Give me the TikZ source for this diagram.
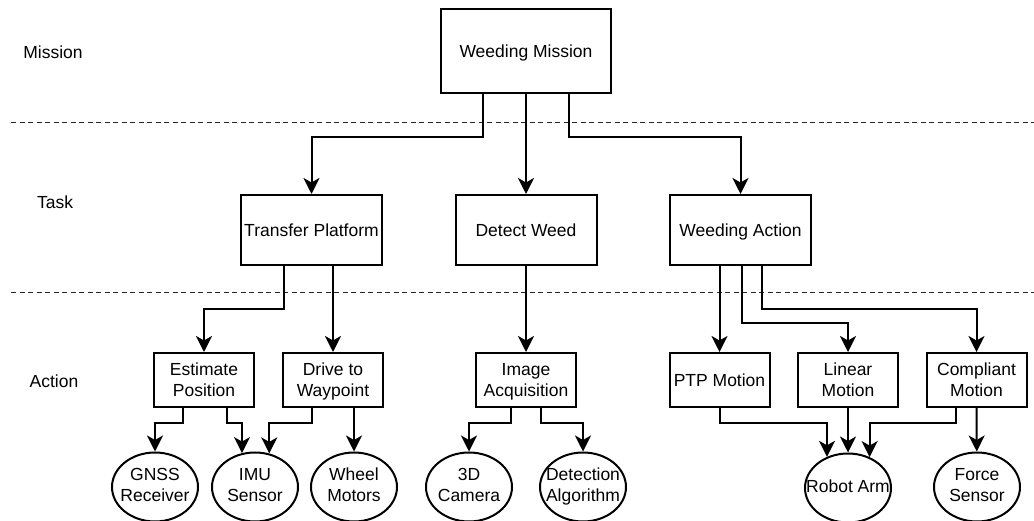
\documentclass[tikz,border=0pt]{standalone}
\usepackage{fontspec}
\setmainfont{Liberation Sans}
\usetikzlibrary{arrows.meta,shapes.geometric}

% two-line label that does not widen the ellipse around it
\newcommand{\elabel}[1]{\raisebox{-2.5pt}{\makebox[0pt][c]{\begin{tabular}{@{}c@{}}#1\end{tabular}}}}

\tikzset{
  missionbox/.style={draw, line width=2pt, minimum width=170pt, minimum height=84pt, inner sep=0pt, align=center, text depth=0pt},
  taskbox/.style={draw, line width=2pt, minimum width=141pt, minimum height=70pt, inner sep=0pt, align=center, text depth=0pt},
  actbox/.style={draw, line width=2pt, minimum width=100pt, minimum height=54pt, inner sep=0pt, align=center, text depth=0pt},
  res/.style={ellipse, draw, line width=2pt, minimum width=86pt, minimum height=69pt, inner sep=0pt},
  arr/.style={line width=2pt, -{Stealth[length=16pt, width=16pt, inset=4.5pt]}},
  sep/.style={line width=1pt, black!85, dash pattern=on 5pt off 3.5pt}
}

\begin{document}
\begin{tikzpicture}[x=1pt, y=-1pt, font=\fontsize{17.5pt}{21pt}\selectfont]
\useasboundingbox (0,0) rectangle (1034,521);

% level separators
\draw[sep] (11,123) -- (1034,123);
\draw[sep] (11,293) -- (1034,293);

% level names
\node (lmission) at (53,52) {Mission};
\node (ltask) at (55,202) {Task};
\node (laction) at (54,381) {Action};

% mission
\node[missionbox] (wm) at (526,51) {Weeding Mission};

% tasks
\node[taskbox] (tp) at (311.5,230) {Transfer Platform};
\node[taskbox] (dw) at (526,230) {Detect Weed};
\node[taskbox] (wa) at (740.5,230) {Weeding Action};

% actions
\node[actbox] (ep)  at (204,380)   {Estimate\\Position};
\node[actbox] (dtw) at (333,380)   {Drive to\\Waypoint};
\node[actbox] (ia)  at (526,380)   {Image\\Acquisition};
\node[actbox] (ptp) at (719.5,380) {PTP Motion};
\node[actbox] (lm)  at (848,380)   {Linear\\Motion};
\node[actbox] (cm)  at (976.5,380) {Compliant\\Motion};

% resources
\node[res] (gnss)  at (155,487) {\elabel{GNSS\\Receiver}};
\node[res] (imu)   at (255,487) {\elabel{IMU\\Sensor}};
\node[res] (wheel) at (354,487) {\elabel{Wheel\\Motors}};
\node[res] (cam)   at (469,487) {\elabel{3D\\Camera}};
\node[res] (det)   at (583,487) {\elabel{Detection\\Algorithm}};
\node[res] (robot) at (848,488) {\elabel{Robot Arm}};
\node[res] (force) at (977,487) {\elabel{Force\\Sensor}};

% mission -> tasks
\draw[arr] ([xshift=-43pt]wm.south) -- ++(0,43) -| (tp.north);
\draw[arr] (wm.south) -- (dw.north);
\draw[arr] ([xshift=43pt]wm.south) -- ++(0,43) -| (wa.north);

% tasks -> actions
\draw[arr] ([xshift=-27.5pt]tp.south) -- ++(0,43) -| (ep.north);
\draw[arr] (dtw.north |- tp.south) -- (dtw.north);
\draw[arr] (dw.south) -- (ia.north);
\draw[arr] (ptp.north |- wa.south) -- (ptp.north);
\draw[arr] ([xshift=1pt]wa.south) -- ++(0,57) -| (lm.north);
\draw[arr] ([xshift=21pt]wa.south) -- ++(0,43) -| (cm.north);

% actions -> resources
\draw[arr] ([xshift=-21pt]ep.south) -- ++(0,15) -| (gnss);
\draw[arr] ([xshift=23pt]ep.south) -- ++(0,15) -| (imu.111);
\draw[arr] ([xshift=-21pt]dtw.south) -- ++(0,15) -| (imu.67);
\draw[arr] (wheel.north |- dtw.south) -- (wheel);
\draw[arr] ([xshift=-15pt]ia.south) -- ++(0,15) -| (cam);
\draw[arr] ([xshift=15pt]ia.south) -- ++(0,15) -| (det);
\draw[arr] (ptp.south) -- ++(0,15) -| (robot.124);
\draw[arr] (lm.south) -- (robot);
\draw[arr] ([xshift=-21pt]cm.south) -- ++(0,15) -| (robot.55);
\draw[arr] (cm.south) -- (force);
\end{tikzpicture}
\end{document}
